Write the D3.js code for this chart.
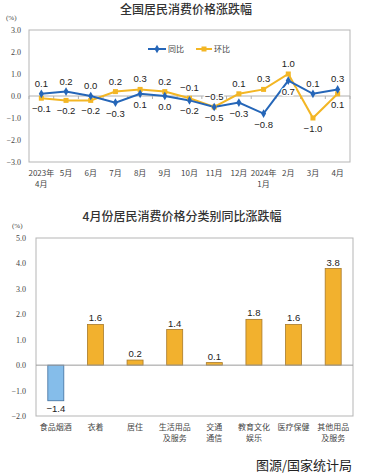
<!DOCTYPE html>
<html>
<head>
<meta charset="utf-8">
<script src="https://cdn.jsdelivr.net/npm/d3@7"></script>
<style>
  body { margin: 0; background: #fff; }
  svg { display: block; }
</style>
</head>
<body>
<div id="chart"></div>
<script>
// top chart data
const months = ["2023年\n4月", "5月", "6月", "7月", "8月", "9月", "10月", "11月", "12月", "2024年\n1月", "2月", "3月", "4月"];
const tongbi = [0.1, 0.2, 0.0, -0.3, 0.1, 0.0, -0.2, -0.5, -0.3, -0.8, 0.7, 0.1, 0.3];
const huanbi = [-0.1, -0.2, -0.2, 0.2, 0.3, 0.2, -0.1, -0.5, 0.1, 0.3, 1.0, -1.0, 0.1];
const topTicks = [3, 2, 1, 0, -1, -2, -3];

// bottom chart data
const cats = ["食品烟酒", "衣着", "居住", "生活用品\n及服务", "交通\n通信", "教育文化\n娱乐", "医疗保健", "其他用品\n及服务"];
const catVals = [-1.4, 1.6, 0.2, 1.4, 0.1, 1.8, 1.6, 3.8];
const botTicks = [5, 4, 3, 2, 1, 0, -1, -2];

const W = 369, H = 475;
const cjk = "'Noto Sans CJK SC', sans-serif";
const serif = "'Liberation Serif', 'DejaVu Serif', serif";
const sans = "'Liberation Sans', Arial, sans-serif";
const blue = "#2566b8", yellow = "#f3b624";

const svg = d3.select("#chart").append("svg")
  .attr("width", W).attr("height", H);

// ---------- top chart ----------
const x1 = d3.scaleBand().domain(d3.range(months.length)).range([29, 350]);
const y1 = d3.scaleLinear().domain([-3, 3]).range([162, 30]);

svg.append("text")
  .attr("x", 186).attr("y", 14)
  .attr("text-anchor", "middle")
  .style("font-family", cjk).style("font-size", "12px").style("font-weight", 500)
  .attr("fill", "#333")
  .text("全国居民消费价格涨跌幅");

svg.append("text")
  .attr("x", 6).attr("y", 20)
  .style("font-family", serif).style("font-size", "7px").attr("fill", "#444")
  .text("(%)");

svg.append("rect")
  .attr("x", 29).attr("y", y1(3)).attr("width", 321).attr("height", y1(-3) - y1(3))
  .attr("fill", "none").attr("stroke", "#b5b5b5").attr("stroke-width", 1);

svg.append("g")
  .selectAll("text").data(topTicks).join("text")
  .attr("x", 21).attr("y", d => y1(d) + 3)
  .attr("text-anchor", "end")
  .style("font-family", serif).style("font-size", "8px").attr("fill", "#444")
  .text(d => d3.format(".1f")(d));

svg.append("line")
  .attr("x1", 29).attr("x2", 350).attr("y1", y1(0)).attr("y2", y1(0))
  .attr("stroke", "#b0b0b0").attr("stroke-width", 1);

svg.append("g")
  .selectAll("line").data(d3.range(months.length + 1)).join("line")
  .attr("x1", d => 29 + d * x1.bandwidth()).attr("x2", d => 29 + d * x1.bandwidth())
  .attr("y1", y1(0)).attr("y2", y1(0) + 3)
  .attr("stroke", "#b0b0b0");

const cx = i => x1(i) + x1.bandwidth() / 2;

const lineGen = d3.line().x((d, i) => cx(i)).y(d => y1(d));

svg.append("path").datum(huanbi)
  .attr("d", lineGen).attr("fill", "none")
  .attr("stroke", yellow).attr("stroke-width", 2);
svg.append("path").datum(tongbi)
  .attr("d", lineGen).attr("fill", "none")
  .attr("stroke", blue).attr("stroke-width", 2);

svg.append("g").selectAll("rect").data(huanbi).join("rect")
  .attr("x", (d, i) => cx(i) - 2.5).attr("y", d => y1(d) - 2.5)
  .attr("width", 5).attr("height", 5).attr("fill", yellow);
svg.append("g").selectAll("path").data(tongbi).join("path")
  .attr("d", d3.symbol(d3.symbolDiamond, 22))
  .attr("transform", (d, i) => `translate(${cx(i)},${y1(d)})`)
  .attr("fill", blue);

// labels: higher value above, lower below (ties -> 环比 above)
const labG = svg.append("g");
months.forEach((m, i) => {
  const a = tongbi[i], b = huanbi[i];
  const aboveBlue = a > b;
  const items = [
    { v: a, up: aboveBlue },
    { v: b, up: !aboveBlue }
  ];
  items.forEach(it => {
    labG.append("text")
      .attr("x", cx(i))
      .attr("y", it.up ? y1(it.v) - 7 : y1(it.v) + 14)
      .attr("text-anchor", "middle")
      .style("font-family", sans).style("font-size", "9.5px")
      .attr("fill", "#222")
      .attr("stroke", "#fff").attr("stroke-width", 2.5)
      .attr("paint-order", "stroke")
      .text(d3.format(".1f")(it.v));
  });
});

// legend
const leg = svg.append("g").attr("transform", "translate(0,49)");
leg.append("line").attr("x1", 148).attr("x2", 166).attr("stroke", blue).attr("stroke-width", 2);
leg.append("path").attr("d", d3.symbol(d3.symbolDiamond, 22)).attr("transform", "translate(157,0)").attr("fill", blue);
leg.append("text").attr("x", 168).attr("y", 3)
  .style("font-family", cjk).style("font-size", "8px").attr("fill", "#444").text("同比");
leg.append("line").attr("x1", 196).attr("x2", 212).attr("stroke", yellow).attr("stroke-width", 2);
leg.append("rect").attr("x", 201.5).attr("y", -2.5).attr("width", 5).attr("height", 5).attr("fill", yellow);
leg.append("text").attr("x", 214).attr("y", 3)
  .style("font-family", cjk).style("font-size", "8px").attr("fill", "#444").text("环比");

// x labels
svg.append("g").selectAll("text").data(months).join("text")
  .attr("x", (d, i) => cx(i)).attr("y", 176)
  .attr("text-anchor", "middle")
  .style("font-family", cjk).style("font-size", "8px").attr("fill", "#444")
  .each(function(d) {
    d.split("\n").forEach((t, k) => {
      d3.select(this).append("tspan")
        .attr("x", d3.select(this).attr("x"))
        .attr("dy", k ? 11 : 0).text(t);
    });
  });

// ---------- bottom chart ----------
const x2 = d3.scaleBand().domain(d3.range(cats.length)).range([36, 353]);
const y2 = d3.scaleLinear().domain([-2, 5]).range([416, 238]);

svg.append("text")
  .attr("x", 182).attr("y", 221)
  .attr("text-anchor", "middle")
  .style("font-family", cjk).style("font-size", "12px").style("font-weight", 500)
  .attr("fill", "#333")
  .text("4月份居民消费价格分类别同比涨跌幅");

svg.append("text")
  .attr("x", 12).attr("y", 228)
  .style("font-family", serif).style("font-size", "7px").attr("fill", "#444")
  .text("(%)");

svg.append("rect")
  .attr("x", 36).attr("y", y2(5)).attr("width", 317).attr("height", y2(-2) - y2(5))
  .attr("fill", "none").attr("stroke", "#b5b5b5").attr("stroke-width", 1);

svg.append("g")
  .selectAll("text").data(botTicks).join("text")
  .attr("x", 26).attr("y", d => y2(d) + 3)
  .attr("text-anchor", "end")
  .style("font-family", serif).style("font-size", "8px").attr("fill", "#444")
  .text(d => d3.format(".1f")(d));

const bw = 16;
const bx = i => x2(i) + x2.bandwidth() / 2;

svg.append("g").selectAll("rect").data(catVals).join("rect")
  .attr("x", (d, i) => bx(i) - bw / 2)
  .attr("y", d => y2(Math.max(0, d)))
  .attr("width", bw)
  .attr("height", d => Math.abs(y2(d) - y2(0)))
  .attr("fill", d => d < 0 ? "#85bdea" : "#f2b12e")
  .attr("stroke", d => d < 0 ? "#3f6f9f" : "#a87a2a")
  .attr("stroke-width", 0.8);

svg.append("line")
  .attr("x1", 36).attr("x2", 353).attr("y1", y2(0)).attr("y2", y2(0))
  .attr("stroke", "#9a9a9a").attr("stroke-width", 1);

svg.append("g").selectAll("text").data(catVals).join("text")
  .attr("x", (d, i) => bx(i))
  .attr("y", d => d < 0 ? y2(d) + 11 : y2(d) - 3)
  .attr("text-anchor", "middle")
  .style("font-family", sans).style("font-size", "9.5px").attr("fill", "#222")
  .text(d => d3.format(".1f")(d));

svg.append("g").selectAll("text").data(cats).join("text")
  .attr("x", (d, i) => bx(i)).attr("y", 430)
  .attr("text-anchor", "middle")
  .style("font-family", cjk).style("font-size", "8px").attr("fill", "#444")
  .each(function(d) {
    d.split("\n").forEach((t, k) => {
      d3.select(this).append("tspan")
        .attr("x", d3.select(this).attr("x"))
        .attr("dy", k ? 11 : 0).text(t);
    });
  });

// footer
svg.append("text")
  .attr("x", 352).attr("y", 470)
  .attr("text-anchor", "end")
  .style("font-family", cjk).style("font-size", "13px").attr("fill", "#222")
  .text("图源/国家统计局");
</script>
</body>
</html>
